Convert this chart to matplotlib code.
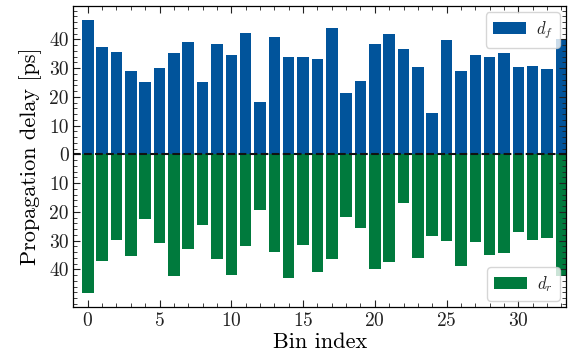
import numpy as np
from matplotlib import pyplot as plt
from matplotlib.ticker import MultipleLocator, FuncFormatter

# propagation delays per bin (ps)
bins = np.arange(34)
d_f = [46.7, 37.3, 35.6, 29.0, 25.3, 30.0, 35.2, 39.1, 25.3, 38.5,
       34.6, 42.2, 18.2, 40.8, 33.9, 33.9, 33.2, 43.9, 21.3, 25.5,
       38.5, 41.9, 36.6, 30.4, 14.4, 39.8, 29.0, 34.6, 33.9, 35.2,
       30.4, 30.7, 29.7, 40.1]
d_r = [48.3, 37.2, 29.9, 35.5, 22.4, 31.0, 42.4, 33.0, 24.7, 36.5,
       41.9, 32.0, 19.2, 34.1, 43.1, 31.7, 41.0, 36.5, 21.9, 25.7,
       40.0, 37.6, 17.0, 36.2, 28.5, 30.3, 39.0, 30.6, 35.1, 34.4,
       27.1, 29.9, 29.2, 42.2]

plt.rcParams.update({
    'font.family': 'serif',
    'font.serif': ['cmr10'],
    'mathtext.fontset': 'cm',
    'axes.formatter.use_mathtext': True,
    'text.color': '#222222',
    'xtick.color': '#222222',
    'ytick.color': '#222222',
    'xtick.direction': 'in',
    'ytick.direction': 'in',
    'xtick.top': True,
    'ytick.right': True,
    'xtick.major.size': 5,
    'ytick.major.size': 5,
    'xtick.minor.size': 2.8,
    'ytick.minor.size': 2.8,
    'xtick.minor.visible': True,
    'ytick.minor.visible': True,
    'axes.linewidth': 0.9,
})

fig, ax = plt.subplots(figsize=(5.78, 3.64), dpi=100)
fig.subplots_adjust(left=0.127, right=0.980, top=0.984, bottom=0.156)

bf = ax.bar(bins, d_f, width=0.8, color='#01549b', label='$d_f$')
br = ax.bar(bins, -np.array(d_r), width=0.8, color='#007a3d', label='$d_r$')
ax.axhline(0, color='#111111', linestyle='--', linewidth=1.5)

ax.set_xlim(-1.0, 33.35)
ax.set_ylim(-53.2, 51.7)
ax.set_yticks(np.arange(-40, 41, 10))
ax.yaxis.set_minor_locator(MultipleLocator(2))
ax.xaxis.set_major_locator(MultipleLocator(5))
ax.xaxis.set_minor_locator(MultipleLocator(1))
ax.yaxis.set_major_formatter(FuncFormatter(lambda v, p: '%d' % abs(round(v))))
ax.tick_params(labelsize=14)

ax.set_xlabel('Bin index', fontsize=16, labelpad=2)
ax.set_ylabel('Propagation delay [ps]', fontsize=16, labelpad=5)

leg1 = ax.legend(handles=[bf], loc='upper right', fontsize=12, handletextpad=0.6,
                 borderaxespad=0.4)
ax.add_artist(leg1)
ax.legend(handles=[br], loc='lower right', fontsize=12, handletextpad=0.6,
          borderaxespad=0.4)

plt.savefig('out.png', dpi=100)
